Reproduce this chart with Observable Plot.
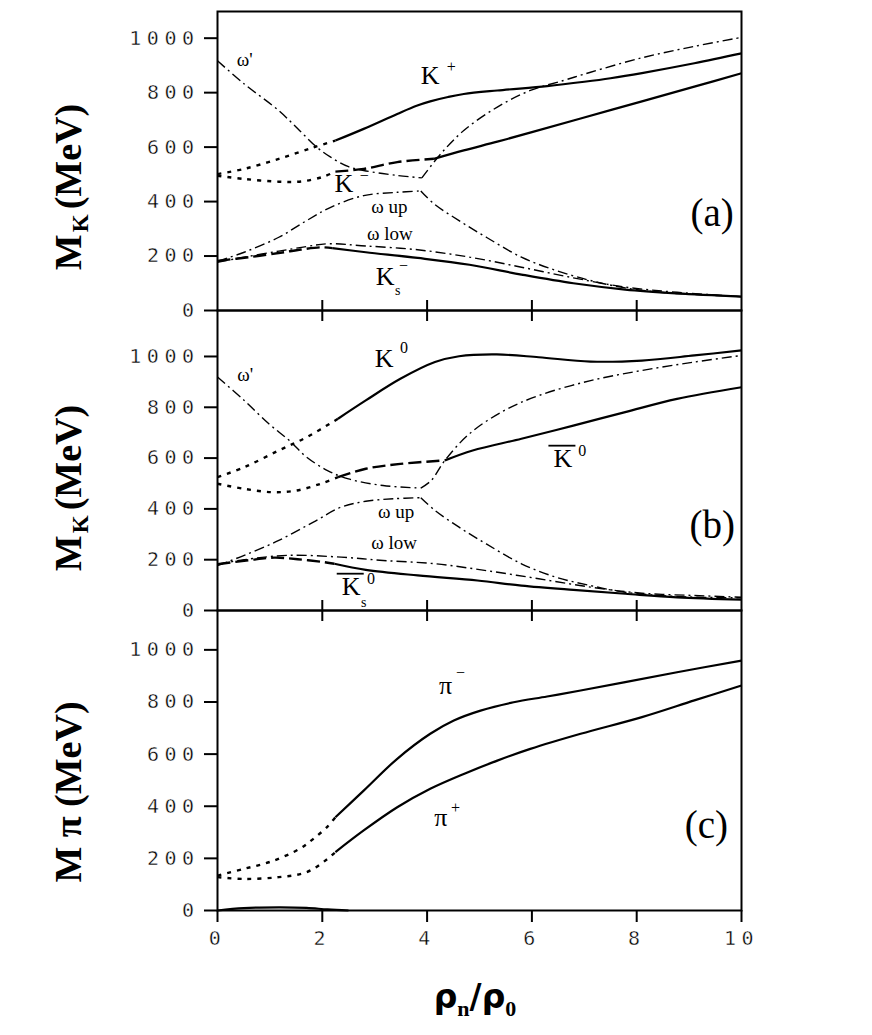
<!DOCTYPE html>
<html><head><meta charset="utf-8">
<script src="https://cdn.jsdelivr.net/npm/d3@7"></script>
<script src="https://cdn.jsdelivr.net/npm/@observablehq/plot@0.6"></script>
<style>
body{margin:0;background:#fff;}
#wrap{position:relative;width:872px;height:1035px;overflow:hidden;background:#fff;}
#wrap svg{position:absolute;left:0;overflow:visible;background:transparent;}
.ylab{position:absolute;font-family:"Liberation Serif";font-weight:bold;font-size:38px;white-space:nowrap;transform:translate(-50%,-50%) rotate(-90deg);line-height:1;color:#000;}
.ylab sub{font-size:23px;vertical-align:-0.3em;margin-left:2px;margin-right:5px;}
.xlab{position:absolute;font-weight:bold;font-size:33px;white-space:nowrap;transform:translate(-50%,-50%);line-height:1;color:#000;font-family:"DejaVu Sans";}
.xlab sub{font-family:"Liberation Serif";font-size:22px;vertical-align:-0.4em;}
g[aria-label="y-axis tick label"] text, g[aria-label="x-axis tick label"] text{letter-spacing:5.5px;stroke:#fff;stroke-width:0.4px;paint-order:fill;}
</style>
</head><body><div id="wrap"></div>
<script>
// ---------- axis ticks ----------
const xTicks = [0, 2, 4, 6, 8, 10];
const xInnerTicks = [2, 4, 6, 8];
const yTicks = [0, 200, 400, 600, 800, 1000];

// ---------- panel (a) : K+, K-, omega modes ----------
const aOmegaPrimeDown = [[0,917],[0.51,832],[1.17,734],[1.57,660],[1.90,599],[2.16,563],[2.5,528],[2.79,514],[3.43,496],[3.9,487]];
const aOmegaPrimeUp = [[3.9,487],[4.26,575],[4.7,661],[5.34,747],[5.97,808],[6.61,845],[7.12,875],[8.1,928],[9.1,970],[10,1003]];
const aKplusDot = [[0,501],[0.51,520],[1.17,557],[1.83,599],[2.25,624]];
const aKplus = [[2.25,624],[2.79,667],[3.43,722],[3.8,752],[4.06,768],[4.4,784],[4.7,795],[5.34,808],[6.29,824],[7.0,840],[7.5,853],[8.1,872],[9.1,908],[10,944]];
const aKminusDot = [[0,495],[0.51,483],[1.17,473],[1.6,474],[2.0,490],[2.25,510]];
const aKminusDash = [[2.25,510],[2.79,520],[3.43,545],[4.13,557]];
const aKminus = [[4.13,557],[4.7,588],[5.34,620],[6.0,655],[6.93,705],[8.1,768],[9.1,822],[10,871]];
const aOmegaUpRise = [[0,181],[0.51,214],[1.17,269],[1.7,330],[2.16,379],[2.79,422],[3.43,434],[3.88,439]];
const aOmegaUpFall = [[3.88,439],[4.13,392],[4.61,330],[5.13,269],[5.8,196],[6.46,147],[7.12,110],[7.78,83],[8.44,67],[9.1,59],[10,51]];
const aOmegaLow = [[0,177],[0.51,196],[1.17,218],[1.7,235],[2.1,245],[2.83,237],[3.82,223],[4.81,196],[5.8,159],[6.79,120],[7.78,86],[8.77,67],[10,51]];
const aKsDash = [[0,182],[0.6,196],[1.2,212],[1.6,224],[1.97,232],[2.19,229]];
const aKs = [[2.19,229],[2.83,214],[3.82,193],[4.81,168],[5.8,132],[6.79,100],[7.78,77],[8.77,63],[10,51]];

// ---------- panel (b) : K0, K0bar, omega modes ----------
const bOmegaPrimeDown = [[0,919],[0.51,827],[0.98,735],[1.37,669],[1.7,604],[2.1,551],[2.5,518],[3.16,492],[3.88,482]];
const bOmegaPrimeUp = [[3.88,482],[4.08,512],[4.34,591],[4.81,696],[5.47,787],[6.13,846],[7.12,905],[8.1,945],[9.1,978],[10,1004]];
const bK0Dot = [[0,525],[0.51,564],[1.17,630],[1.7,682],[2.3,755]];
const bK0 = [[2.3,755],[2.83,827],[3.49,912],[4.15,978],[4.61,1001],[5.33,1008],[6.13,997],[7.12,980],[8.1,984],[9.1,1004],[10,1024]];
const bK0barDot = [[0,499],[0.51,479],[1.04,466],[1.5,472],[1.97,499],[2.3,525]];
const bK0barDash = [[2.3,525],[2.83,558],[3.49,577],[4.34,591]];
const bK0bar = [[4.34,591],[4.87,630],[5.8,676],[6.79,728],[7.78,781],[8.77,833],[10,879]];
const bOmegaUpRise = [[0,177],[0.51,217],[1.17,276],[1.83,348],[2.36,407],[2.83,430],[3.36,440],[3.88,444]];
const bOmegaUpFall = [[3.88,444],[4.15,394],[4.61,328],[5.13,262],[5.8,184],[6.46,131],[7.12,98],[7.78,72],[8.77,55],[10,50]];
const bOmegaLow = [[0,182],[0.51,200],[1.34,217],[2.36,210],[3.16,197],[4.15,184],[5.13,157],[6.13,125],[7.12,92],[8.1,68],[9.1,59],[10,52]];
const bKsDash = [[0,182],[0.6,198],[1.08,208],[1.53,202],[2.04,190],[2.23,184]];
const bKs = [[2.23,184],[2.83,160],[3.82,138],[4.96,118],[5.8,98],[6.79,81],[7.78,66],[8.77,52],[10,43]];

// ---------- panel (c) : pions ----------
const cPiMinusDot = [[0,134],[0.51,160],[1.04,189],[1.57,237],[1.83,275],[2.1,322],[2.25,358]];
const cPiMinus = [[2.25,358],[2.79,460],[3.43,582],[4.06,678],[4.51,729],[5.02,767],[5.65,799],[6.29,821],[6.93,844],[7.78,876],[8.77,914],[10,959]];
const cPiPlusDot = [[0,128],[0.51,121],[1.17,128],[1.7,147],[2.1,198],[2.25,224]];
const cPiPlus = [[2.25,224],[2.79,307],[3.43,396],[4.06,467],[4.7,524],[5.34,575],[5.97,620],[6.93,678],[8.1,742],[9.1,806],[10,863]];
const cLowArc = [[0,0],[0.5,9],[1.17,12],[1.7,10],[2.1,4],[2.5,0]];

// ---------- annotations (data coordinates) ----------
const aBig = [{x:4.06,y:862,t:"K"},{x:2.41,y:465,t:"K"},{x:3.2,y:126,t:"K"}];
const aSup = [{x:4.46,y:893,t:"+"},{x:2.80,y:493,t:"−"},{x:3.55,y:165,t:"−"}];
const aSub = [{x:3.44,y:75,t:"s"}];
const aSmall = [{x:0.52,y:920,t:"ω'"},{x:3.28,y:379,t:"ω up"},{x:3.29,y:281,t:"ω low"}];
const aPanel = [{x:9.44,y:355,t:"(a)"}];

const bBig = [{x:3.18,y:991,t:"K"}];
const bBarK = [{x:6.59,y:597,t:"K"},{x:2.55,y:93,t:"K"}];
const bSup = [{x:3.56,y:1034,t:"0"},{x:6.96,y:630,t:"0"},{x:2.93,y:126,t:"0"}];
const bSub = [{x:2.79,y:31,t:"s"}];
const bSmall = [{x:0.53,y:929,t:"ω'"},{x:3.41,y:387,t:"ω up"},{x:3.37,y:266,t:"ω low"}];
const bPanel = [{x:9.44,y:335,t:"(b)"}];

const cBig = [{x:4.35,y:861,t:"π"},{x:4.26,y:355,t:"π"}];
const cSup = [{x:4.64,y:913,t:"−"},{x:4.54,y:393,t:"+"}];
const cPanel = [{x:9.33,y:326,t:"(c)"}];

// ---------- styles ----------
const STY = {
  solid:   {strokeWidth: 2.2},
  dot:     {strokeWidth: 2.4, strokeDasharray: "4,6"},
  dash:    {strokeWidth: 2.4, strokeDasharray: "13,5"},
  dashdot: {strokeWidth: 1.4, strokeDasharray: "10,4,2,4"}
};
const SERIF = "Liberation Serif";
const MONO = "DejaVu Sans Mono";
const BAR_FILL = "#000001"; // marks the anti-kaon labels that get an overbar

function lineMark(pts, style) {
  return Plot.line(pts, {x: d => d[0], y: d => d[1], curve: "catmull-rom", stroke: "black", strokeLinecap: "butt", ...STY[style]});
}
function textMarks(arr, size, extra = {}) {
  return Plot.text(arr, {x: "x", y: "y", text: "t", fontSize: size, fontFamily: SERIF, fill: "black", ...extra});
}

function panel({yMax, height, mt, mb, lines, texts, top, bottom}) {
  const marks = [];
  for (const [pts, st] of lines) marks.push(lineMark(pts, st));
  marks.push(...texts);
  marks.push(Plot.axisY({ticks: yTicks, tickSize: 13, tickPadding: 5, tickFormat: d => String(d), fontSize: 20, fontFamily: MONO, strokeWidth: 2, label: null}));
  if (top) marks.push(Plot.axisX({anchor: "top", ticks: xInnerTicks, tickSize: 10, dy: 10, tickFormat: () => "", strokeWidth: 2, label: null}));
  if (bottom === "inner") marks.push(Plot.axisX({anchor: "bottom", ticks: xInnerTicks, tickSize: 10, dy: -10, tickFormat: () => "", strokeWidth: 2, label: null}));
  if (bottom === "outer") marks.push(Plot.axisX({anchor: "bottom", ticks: xTicks, tickSize: 12, tickPadding: 8, tickFormat: d => String(d), fontSize: 20, fontFamily: MONO, strokeWidth: 2, label: null}));
  marks.push(Plot.frame({stroke: "black", strokeWidth: 2}));
  return Plot.plot({
    width: 872, height, marginLeft: 217, marginRight: 131, marginTop: mt, marginBottom: mb,
    style: {background: "transparent", color: "black", overflow: "visible"},
    x: {domain: [0, 10]},
    y: {domain: [0, yMax]},
    marks
  });
}

const wrap = document.getElementById("wrap");

const pa = panel({
  yMax: 1098, height: 320, mt: 11, mb: 10, top: false, bottom: "inner",
  lines: [[aOmegaPrimeDown,"dashdot"],[aOmegaPrimeUp,"dashdot"],[aKplusDot,"dot"],[aKplus,"solid"],
          [aKminusDot,"dot"],[aKminusDash,"dash"],[aKminus,"solid"],[aOmegaUpRise,"dashdot"],[aOmegaUpFall,"dashdot"],
          [aOmegaLow,"dashdot"],[aKsDash,"dash"],[aKs,"solid"]],
  texts: [textMarks(aBig, 26), textMarks(aSup, 16), textMarks(aSub, 14), textMarks(aSmall, 19), textMarks(aPanel, 39)]
});
pa.style.top = "0px";
wrap.appendChild(pa);

const pb = panel({
  yMax: 1181, height: 320, mt: 10, mb: 10, top: true, bottom: "inner",
  lines: [[bOmegaPrimeDown,"dashdot"],[bOmegaPrimeUp,"dashdot"],[bK0Dot,"dot"],[bK0,"solid"],
          [bK0barDot,"dot"],[bK0barDash,"dash"],[bK0bar,"solid"],[bOmegaUpRise,"dashdot"],[bOmegaUpFall,"dashdot"],
          [bOmegaLow,"dashdot"],[bKsDash,"dash"],[bKs,"solid"]],
  texts: [textMarks(bBig, 26), textMarks(bBarK, 26, {fill: BAR_FILL}), textMarks(bSup, 16), textMarks(bSub, 14), textMarks(bSmall, 19), textMarks(bPanel, 39)]
});
pb.style.top = "300px";
wrap.appendChild(pb);

// overbar decoration of the anti-kaon labels, derived from each label's own box
let barTexts = Array.from(pb.querySelectorAll("text")).filter(t => {
  const f = (t.getAttribute("fill") || (t.parentNode && t.parentNode.getAttribute && t.parentNode.getAttribute("fill")) || "").toLowerCase();
  return f === BAR_FILL;
});
barTexts.forEach(t => {
  const bb = t.getBBox();
  const ln = document.createElementNS("http://www.w3.org/2000/svg", "line");
  ln.setAttribute("x1", bb.x - 5); ln.setAttribute("x2", bb.x + bb.width + 3);
  ln.setAttribute("y1", bb.y + 1.5); ln.setAttribute("y2", bb.y + 1.5);
  ln.setAttribute("stroke", "black"); ln.setAttribute("stroke-width", 1.8);
  const tr = t.getAttribute("transform"); if (tr) ln.setAttribute("transform", tr);
  t.parentNode.appendChild(ln);
});

const pc = panel({
  yMax: 1151, height: 435, mt: 10, mb: 125, top: true, bottom: "outer",
  lines: [[cPiMinusDot,"dot"],[cPiMinus,"solid"],[cPiPlusDot,"dot"],[cPiPlus,"solid"],[cLowArc,"solid"]],
  texts: [textMarks(cBig, 26), textMarks(cSup, 16), textMarks(cPanel, 39)]
});
pc.style.top = "600px";
wrap.appendChild(pc);

// ---------- axis titles ----------
function addDiv(cls, html, left, top) {
  const d = document.createElement("div");
  d.className = cls; d.innerHTML = html;
  d.style.left = left + "px"; d.style.top = top + "px";
  wrap.appendChild(d);
}
addDiv("ylab", "M<sub>K</sub>(MeV)", 70, 187);
addDiv("ylab", "M<sub>K</sub>(MeV)", 70, 488);
addDiv("ylab", "M π (MeV)", 68, 792);
addDiv("xlab", "ρ<sub>n</sub>/ρ<sub>0</sub>", 475, 1000);
</script></body></html>
